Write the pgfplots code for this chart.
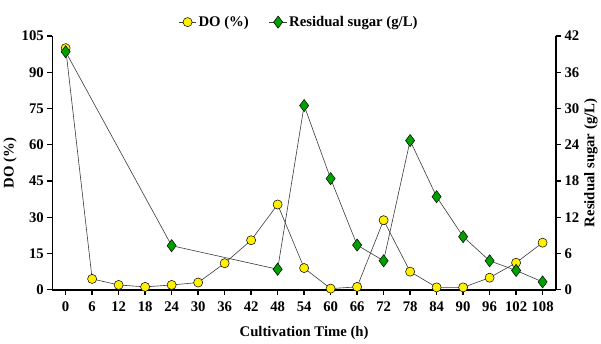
\documentclass[border=0pt]{standalone}
\usepackage{pgfplots}
\pgfplotsset{compat=1.18}
\usepackage{fontspec}
\setmainfont{Liberation Serif}
\definecolor{dogreen}{RGB}{0,160,0}
\definecolor{doyellow}{RGB}{255,240,0}
\definecolor{lgray}{RGB}{60,60,60}
\begin{document}
\begin{tikzpicture}
\pgfplotsset{
  every axis/.style={
    scale only axis, width=496pt, height=250pt,
    xmin=-3, xmax=111,
    /pgf/number format/assume math mode=true,
    tick label style={font=\fontsize{14.5}{15}\selectfont\bfseries},
    label style={font=\fontsize{14.5}{15}\selectfont\bfseries},
    axis line style={line width=1.6pt},
    tick style={line width=1.3pt, black},
    major tick length=5pt,
    tick align=outside,
  }
}
\begin{axis}[
  axis y line*=left, axis x line*=bottom,
  ymin=0, ymax=105, ytick={0,15,...,105},
  xtick={0,6,...,108},
  xticklabel style={yshift=-3pt},
  xlabel={Cultivation Time (h)},
  xlabel style={yshift=-8pt},
  ylabel={DO (\%)},
  ylabel style={yshift=-2pt},
  legend style={at={(0.49,1.015)}, anchor=south, draw=none, fill=none,
    legend columns=2, font=\fontsize{14.5}{15}\selectfont\bfseries,
    /tikz/every even column/.append style={column sep=18pt}},
  legend cell align=left,
]
\addplot[lgray, line width=0.6pt, mark=*, mark size=4.5pt,
  mark options={fill=doyellow, draw=black, line width=0.5pt}]
  coordinates {(0,100)(6,4.5)(12,2)(18,1.2)(24,2)(30,3)(36,11)(42,20.5)(48,35.3)(54,9)(60,0.5)(66,1.2)(72,28.8)(78,7.5)(84,1)(90,1)(96,5)(102,11.2)(108,19.5)};
\addlegendentry{DO (\%)}
\addlegendimage{lgray, line width=0.6pt, mark=diamond*, mark size=6pt,
  mark options={fill=dogreen, draw=black, line width=0.5pt}}
\addlegendentry{Residual sugar (g/L)}
\end{axis}
\begin{axis}[
  axis y line*=right, axis x line=none,
  ymin=0, ymax=42, ytick={0,6,...,42},
  ylabel={Residual sugar (g/L)},
  ylabel style={yshift=2pt},
]
\addplot[lgray, line width=0.6pt, mark=diamond*, mark size=6pt,
  mark options={fill=dogreen, draw=black, line width=0.5pt}]
  coordinates {(0,39.4)(24,7.3)(48,3.4)(54,30.5)(60,18.4)(66,7.4)(72,4.8)(78,24.7)(84,15.4)(90,8.8)(96,4.8)(102,3.2)(108,1.3)};
\end{axis}
\path (current bounding box.north) ++(0,12pt) coordinate (topx);
\path (topx) -- (topx);
\end{tikzpicture}
\end{document}
